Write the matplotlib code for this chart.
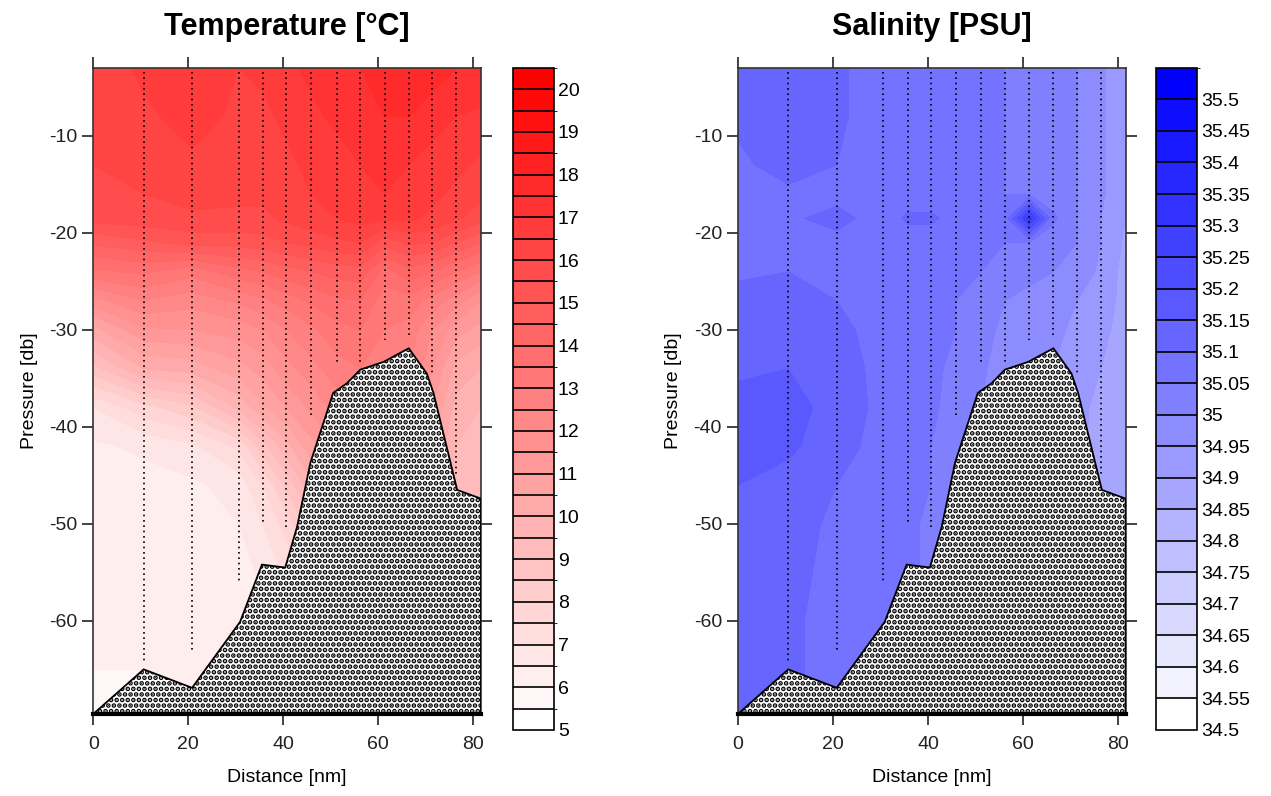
import numpy as np
import matplotlib
matplotlib.use('Agg')
import matplotlib.pyplot as plt
from matplotlib.colors import ListedColormap, BoundaryNorm

plt.rcParams['font.family'] = ['Liberation Sans', 'DejaVu Sans']
plt.rcParams['axes.unicode_minus'] = False
plt.rcParams['hatch.linewidth'] = 2.4
plt.rcParams['hatch.color'] = 'black'

# station grid (distance in nm, pressure in db)
dist = [0, 10.6, 20.8, 30.6, 35.7, 40.6, 45.8, 51.2, 56.2, 61.3, 66.4, 71.4, 76.4, 81.6]
depth = [-3, -8, -13, -16, -18.5, -21, -24, -27, -30, -34, -38, -42, -46, -50, -55, -60, -65, -70]

temp = [
    [16.2, 16.6, 16.9, 16.5, 16.6, 16.9, 17.1, 17.3, 17.5, 17.8, 17.9, 17.8, 17.5, 17.4],
    [16.1, 16.4, 16.7, 16.4, 16.4, 16.6, 16.9, 17.1, 17.3, 17.5, 17.5, 17.2, 17.0, 16.9],
    [16.0, 16.2, 16.4, 16.2, 16.2, 16.4, 16.6, 16.8, 17.0, 17.1, 17.0, 16.8, 16.6, 16.4],
    [15.9, 16.0, 16.2, 16.1, 16.1, 16.3, 16.5, 16.7, 16.9, 17.0, 16.8, 16.6, 16.4, 16.1],
    [15.7, 15.8, 15.9, 15.9, 15.9, 16.1, 16.3, 16.5, 16.7, 16.6, 16.6, 16.4, 16.1, 15.7],
    [14.6, 14.9, 15.2, 15.2, 15.3, 15.5, 15.7, 15.9, 16.0, 15.2, 15.6, 15.5, 15.0, 14.5],
    [13.4, 13.6, 13.2, 13.8, 14.0, 14.3, 14.5, 14.7, 14.8, 13.8, 14.3, 14.0, 13.5, 13.0],
    [11.8, 12.5, 12.2, 12.6, 12.9, 13.2, 13.6, 13.9, 14.0, 13.2, 13.3, 12.8, 12.2, 11.5],
    [10.3, 11.4, 11.5, 11.7, 12.0, 12.5, 12.9, 13.3, 13.5, 13.0, 12.8, 12.0, 11.2, 10.8],
    [8.8, 10.0, 10.2, 10.8, 11.2, 11.8, 12.3, 12.8, 13.0, 12.8, 12.5, 11.5, 10.3, 10.0],
    [7.0, 7.8, 8.4, 9.6, 10.4, 11.0, 11.6, 12.2, 12.5, 12.5, 12.2, 11.0, 9.8, 9.5],
    [6.4, 6.6, 6.9, 7.6, 8.8, 9.8, 10.8, 11.5, 12.0, 12.0, 11.6, 10.5, 9.5, 9.3],
    [6.2, 6.3, 6.4, 6.7, 7.5, 8.6, 9.8, 11.0, 11.5, 11.5, 11.0, 10.0, 9.3, 9.2],
    [6.15, 6.2, 6.25, 6.5, 7.0, 7.7, 8.8, 10.0, 10.5, 10.5, 10.2, 9.6, 9.2, 9.1],
    [6.1, 6.1, 6.15, 6.3, 6.6, 7.1, 8.0, 9.0, 9.5, 9.5, 9.3, 9.2, 9.0, 9.0],
    [6.05, 6.05, 6.1, 6.2, 6.4, 6.7, 7.5, 8.5, 9.0, 9.0, 9.0, 9.0, 9.0, 9.0],
    [6.0, 6.0, 6.05, 6.15, 6.3, 6.5, 7.2, 8.2, 8.8, 8.8, 8.8, 8.8, 8.8, 8.8],
    [5.95, 5.95, 6.0, 6.1, 6.2, 6.4, 7.0, 8.0, 8.6, 8.6, 8.6, 8.6, 8.6, 8.6],
]

sal = [
    [35.10, 35.12, 35.11, 35.07, 35.06, 35.06, 35.10, 35.07, 35.05, 35.04, 35.02, 35.00, 34.96, 34.90],
    [35.11, 35.12, 35.11, 35.07, 35.06, 35.06, 35.10, 35.07, 35.05, 35.04, 35.02, 35.00, 34.96, 34.90],
    [35.09, 35.12, 35.10, 35.07, 35.06, 35.06, 35.09, 35.06, 35.05, 35.04, 35.02, 35.00, 34.96, 34.90],
    [35.08, 35.09, 35.08, 35.07, 35.07, 35.07, 35.06, 35.06, 35.05, 35.05, 35.02, 35.00, 34.96, 34.90],
    [35.08, 35.09, 35.12, 35.07, 35.11, 35.11, 35.08, 35.06, 35.07, 35.32, 35.06, 35.00, 34.95, 34.90],
    [35.08, 35.09, 35.08, 35.07, 35.07, 35.07, 35.06, 35.06, 35.05, 35.05, 35.02, 35.00, 34.95, 34.89],
    [35.09, 35.10, 35.08, 35.07, 35.07, 35.06, 35.06, 35.05, 35.03, 35.02, 35.00, 34.98, 34.94, 34.88],
    [35.12, 35.13, 35.10, 35.07, 35.06, 35.06, 35.05, 35.04, 35.00, 34.98, 34.97, 34.95, 34.93, 34.88],
    [35.13, 35.14, 35.12, 35.07, 35.06, 35.06, 35.05, 35.03, 34.98, 34.97, 34.96, 34.94, 34.92, 34.87],
    [35.14, 35.15, 35.13, 35.08, 35.07, 35.06, 35.04, 35.01, 34.97, 34.96, 34.95, 34.93, 34.90, 34.86],
    [35.17, 35.16, 35.14, 35.08, 35.07, 35.06, 35.03, 35.00, 34.97, 34.96, 34.95, 34.92, 34.88, 34.86],
    [35.18, 35.16, 35.12, 35.08, 35.07, 35.05, 35.02, 34.99, 34.97, 34.96, 34.95, 34.92, 34.87, 34.86],
    [35.15, 35.13, 35.10, 35.08, 35.07, 35.05, 35.01, 34.99, 34.97, 34.96, 34.95, 34.92, 34.87, 34.86],
    [35.13, 35.12, 35.09, 35.07, 35.06, 35.04, 35.01, 34.99, 34.97, 34.96, 34.95, 34.92, 34.87, 34.86],
    [35.12, 35.11, 35.09, 35.07, 35.06, 35.04, 35.01, 34.99, 34.97, 34.96, 34.95, 34.92, 34.87, 34.86],
    [35.12, 35.11, 35.08, 35.07, 35.06, 35.04, 35.01, 34.99, 34.97, 34.96, 34.95, 34.92, 34.87, 34.86],
    [35.12, 35.11, 35.08, 35.07, 35.06, 35.04, 35.01, 34.99, 34.97, 34.96, 34.95, 34.92, 34.87, 34.86],
    [35.12, 35.11, 35.08, 35.07, 35.06, 35.04, 35.01, 34.99, 34.97, 34.96, 34.95, 34.92, 34.87, 34.86],
]

# bottom profile
bathy_x = [0, 10.6, 20.8, 30.9, 35.5, 40.4, 42.9, 45.7, 50.5, 53.4, 56.2, 61.1, 66.4, 70.2, 71.6, 76.6, 81.6]
bathy_z = [-69.6, -65.0, -66.9, -60.1, -54.2, -54.5, -50.3, -43.7, -36.5, -35.5, -34.1, -33.3, -31.9, -34.5, -36.5, -46.5, -47.4]

# CTD casts (station positions and cast depth)
cast_x = [10.6, 20.8, 30.6, 35.7, 40.6, 45.8, 51.2, 56.2, 61.3, 66.4, 71.4, 76.4]
cast_bottom = [-64.2, -63.2, -56.1, -49.8, -50.6, -39.1, -33.6, -33.3, -31.0, -30.7, -34.5, -45.1]

temp_levels = np.arange(5, 20.51, 0.5)
sal_levels = np.round(np.arange(34.5, 35.551, 0.05), 2)

xmin, xmax = 0, 81.6
ymin, ymax = -69.6, -3.0


def make_cmap(n, rgb):
    cols = []
    for i in range(n):
        f = i / (n - 1)
        cols.append(tuple(1 - f * (1 - c) for c in rgb))
    return ListedColormap(cols)


fig = plt.figure(figsize=(12.71, 7.96), dpi=100)

panels = [
    ('Temperature [°C]', temp, temp_levels, (1, 0, 0), [0.0734, 0.103, 0.305, 0.8116],
     [0.4034, 0.083, 0.0323, 0.8317], np.arange(5, 21, 1)),
    ('Salinity [PSU]', sal, sal_levels, (0, 0, 1), [0.5806, 0.103, 0.305, 0.8116],
     [0.9095, 0.083, 0.0323, 0.8317], sal_levels[:-1]),
]

for title, field, levels, rgb, pos, cpos, cticks in panels:
    ax = fig.add_axes(pos)
    cmap = make_cmap(len(levels) - 1, rgb)
    norm = BoundaryNorm(levels, cmap.N)
    X, Y = np.meshgrid(dist, depth)
    cs = ax.contourf(X, Y, np.array(field), levels=levels, cmap=cmap, norm=norm)

    for sx, sb in zip(cast_x, cast_bottom):
        ax.plot([sx, sx], [-3.4, sb], color='black', lw=1.2, ls=(0, (1, 2.2)))

    px = bathy_x + [bathy_x[-1], bathy_x[0]]
    pz = bathy_z + [ymin, ymin]
    ax.fill(px, pz, facecolor='white', edgecolor='black', hatch='...', lw=1.3, zorder=3)
    ax.plot([xmin, xmax], [ymin, ymin], color='black', lw=3, zorder=4, clip_on=False)

    ax.set_xlim(xmin, xmax)
    ax.set_ylim(ymin, ymax)
    ax.set_xticks([0, 20, 40, 60, 80])
    ax.set_yticks([-60, -50, -40, -30, -20, -10])
    ax.tick_params(direction='out', top=True, right=True, length=8, width=1.2,
                   labelsize=14, colors='#222222')
    ax.tick_params(axis='x', pad=8)
    for s in ax.spines.values():
        s.set_linewidth(1.2)
        s.set_color('#333333')
    ax.set_xlabel('Distance [nm]', fontsize=14, labelpad=11)
    ax.set_ylabel('Pressure [db]', fontsize=14, labelpad=8)
    ax.set_title(title, fontsize=22, fontweight='bold', pad=24)

    cax = fig.add_axes(cpos)
    cb = fig.colorbar(cs, cax=cax, drawedges=True, ticks=cticks)
    cb.ax.set_yticklabels(['%g' % t for t in cticks])
    cb.ax.tick_params(length=0, labelsize=14, pad=3)
    cb.outline.set_linewidth(1.2)
    cb.dividers.set_linewidth(1.2)

fig.savefig('out.png', dpi=100)
